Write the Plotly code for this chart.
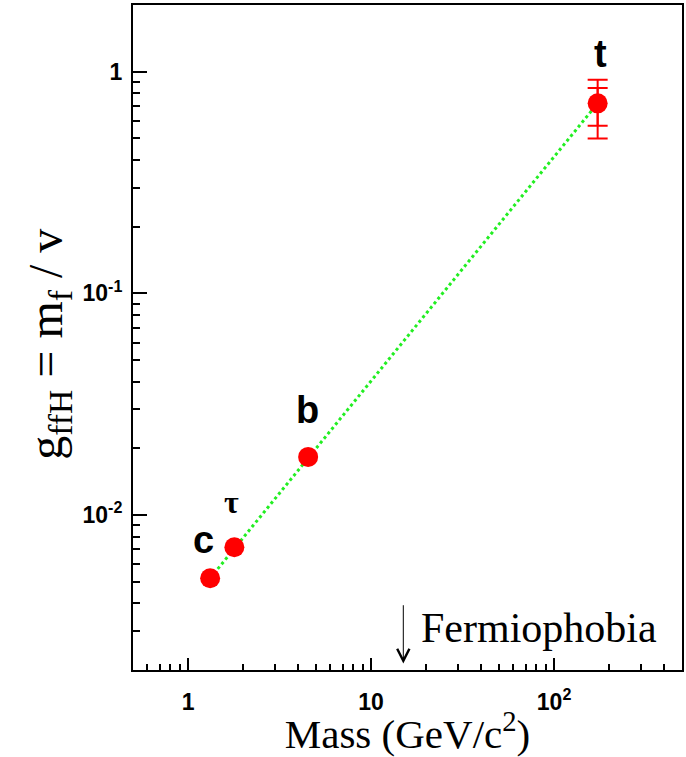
import plotly.graph_objects as go
import math

# ---- data ----
particles = ["c", "τ", "b", "t"]
mass = [1.32, 1.79, 4.53, 173.0]          # GeV/c^2
coupling = [0.00519, 0.00716, 0.0183, 0.72]  # g_ffH = m_f / v
# top-quark error bars (outer = total, inner = partial)
top_err_outer_plus = [0.20]
top_err_outer_minus = [0.22]
top_err_inner_plus = [0.125]
top_err_inner_minus = [0.15]
# line g = m / v
line_mass = [1.32, 173.0]
line_g = [0.00519, 0.72]
fermiophobia_mass = 15.0

x_tickvals = [1, 10, 100]
x_ticktext = ["1", "10", "10<sup>2</sup>"]
y_tickvals = [0.01, 0.1, 1]
y_ticktext = ["10<sup>-2</sup>", "10<sup>-1</sup>", "1"]

x_minor = [d * 10 ** e for e in range(-1, 3) for d in range(2, 10) if 0.5 <= d * 10 ** e <= 500]
y_minor = [d * 10 ** e for e in range(-3, 1) for d in range(2, 10) if 0.002 <= d * 10 ** e <= 2]

fig = go.Figure()

fig.add_trace(go.Scatter(
    x=line_mass, y=line_g, mode="lines",
    line=dict(color="#22ee22", width=3, dash="dot"),
    showlegend=False, hoverinfo="skip"))

# top error bars (outer and inner)
fig.add_trace(go.Scatter(
    x=[mass[3]], y=[coupling[3]], mode="markers",
    marker=dict(color="rgba(0,0,0,0)", size=1),
    error_y=dict(type="data", symmetric=False, array=top_err_outer_plus,
                 arrayminus=top_err_outer_minus, color="#ff0000", thickness=2, width=10),
    showlegend=False))
fig.add_trace(go.Scatter(
    x=[mass[3]], y=[coupling[3]], mode="markers",
    marker=dict(color="rgba(0,0,0,0)", size=1),
    error_y=dict(type="data", symmetric=False, array=top_err_inner_plus,
                 arrayminus=top_err_inner_minus, color="#ff0000", thickness=2, width=10),
    showlegend=False))

fig.add_trace(go.Scatter(
    x=mass, y=coupling, mode="markers",
    marker=dict(color="#ff0000", size=20, line=dict(width=0)),
    showlegend=False))

# particle labels
label_shift = {"c": (-7, 38, 38, "bold", "Liberation Sans, Arial"),
               "τ": (-3, 45, 32, "bold", "Liberation Serif, Times New Roman"),
               "b": (-1, 47, 38, "bold", "Liberation Sans, Arial"),
               "t": (3, 49, 38, "bold", "Liberation Sans, Arial")}
for p, m, g in zip(particles, mass, coupling):
    dx, dy, fs, wt, fam = label_shift[p]
    fig.add_annotation(x=math.log10(m), y=math.log10(g), text=p, showarrow=False,
                       xshift=dx, yshift=dy, xanchor="center", yanchor="middle",
                       font=dict(family=fam, size=fs, color="black", weight=wt))

# Fermiophobia arrow and text
fig.add_annotation(x=math.log10(fermiophobia_mass), y=-2.67,
                   ax=math.log10(fermiophobia_mass), ay=-2.40,
                   axref="x", ayref="y", xref="x", yref="y",
                   showarrow=True, arrowhead=5, arrowsize=2.4, arrowwidth=1,
                   arrowcolor="black", text="")
fig.add_annotation(x=math.log10(18.3), y=-2.51, text="Fermiophobia", showarrow=False,
                   xanchor="left", yanchor="middle",
                   font=dict(family="Liberation Serif, Times New Roman", size=42, color="black"))

# y-axis title
fig.add_annotation(xref="paper", yref="paper", x=-0.152, y=0.49,
                   text="g<sub>ffH</sub> = m<sub>f</sub> / v", showarrow=False,
                   textangle=-90, xanchor="center", yanchor="middle",
                   font=dict(family="Liberation Serif, Times New Roman", size=48, color="black"))

tickfont = dict(family="Liberation Sans, Arial", size=23, color="black", weight="bold")
axis_common = dict(
    type="log", showgrid=False, zeroline=False,
    showline=True, linecolor="black", linewidth=2, mirror=True,
    ticks="inside", tickcolor="black", tickwidth=2,
    tickfont=tickfont, tickmode="array",
)

fig.update_xaxes(
    **axis_common,
    range=[math.log10(0.5), math.log10(500)],
    tickvals=x_tickvals, ticktext=x_ticktext, ticklen=12,
    ticklabelstandoff=10,
    minor=dict(ticks="inside", ticklen=6, tickwidth=2, tickcolor="black",
               tickmode="array", tickvals=x_minor, showgrid=False),
    title=dict(text="Mass (GeV/c<sup>2</sup>)", standoff=9,
               font=dict(family="Liberation Serif, Times New Roman", size=41, color="black")),
)
fig.update_yaxes(
    **axis_common,
    range=[math.log10(0.002), math.log10(2)],
    tickvals=y_tickvals, ticktext=y_ticktext, ticklen=14,
    ticklabelstandoff=4,
    minor=dict(ticks="inside", ticklen=7, tickwidth=2, tickcolor="black",
               tickmode="array", tickvals=y_minor, showgrid=False),
)

fig.update_layout(
    width=686, height=757,
    margin=dict(l=133, r=4, t=5, b=87, autoexpand=False),
    paper_bgcolor="white", plot_bgcolor="white",
    showlegend=False,
)

fig.write_html("out.html")
